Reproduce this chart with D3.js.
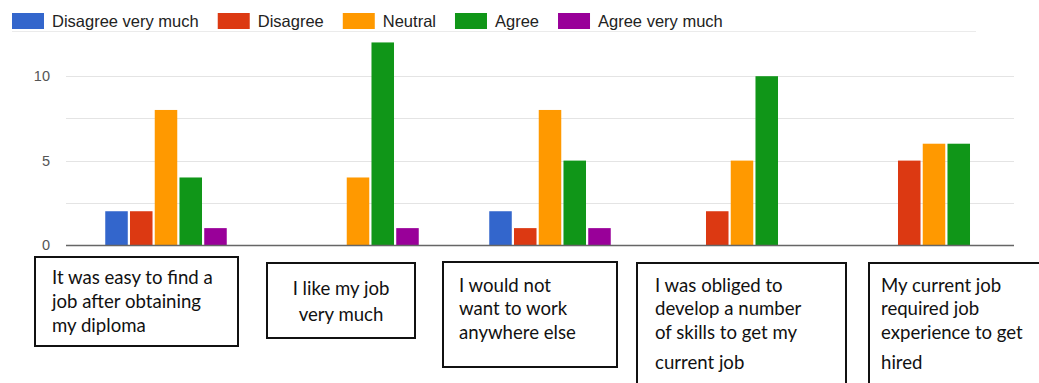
<!DOCTYPE html>
<html>
<head>
<meta charset="utf-8">
<script src="https://cdn.jsdelivr.net/npm/d3@7"></script>
<style>
  body { margin: 0; background: #fff; }
  svg { display: block; }
</style>
</head>
<body>
<div id="chart"></div>
<script>
// Dimensions
const width = 1039;
const height = 383;
const plot = { left: 66, right: 1014, top: 34, bottom: 245 };

// Data
const questions = ['Q1', 'Q2', 'Q3', 'Q4', 'Q5'];
const answers = ['Disagree very much', 'Disagree', 'Neutral', 'Agree', 'Agree very much'];
const colors = ['#3366cc', '#dc3912', '#ff9900', '#109618', '#990099'];
const disagreeVeryMuch = [2, 0, 2, 0, 0];
const disagree = [2, 0, 1, 2, 5];
const neutral = [8, 4, 8, 5, 6];
const agree = [4, 12, 5, 10, 6];
const agreeVeryMuch = [1, 1, 1, 0, 0];
const yTicks = [0, 5, 10];
const gridTicks = [2.5, 5, 7.5, 10];
const questionLines = [
    ['It was easy to find a', 'job after obtaining', 'my diploma'],
    ['I like my job', 'very much'],
    ['I would not', 'want to work', 'anywhere else'],
    ['I was obliged to', 'develop a number', 'of skills to get my', 'current job'],
    ['My current job', 'required job', 'experience to get', 'hired']
];

const series = [disagreeVeryMuch, disagree, neutral, agree, agreeVeryMuch];

const svg = d3.select("#chart")
    .append("svg")
    .attr("width", width)
    .attr("height", height);

// Scales
const x0 = d3.scaleBand()
    .domain(questions)
    .range([70, 1030]);

const x1 = d3.scaleBand()
    .domain(answers)
    .range([0, 121.5])
    .paddingInner(0.09);

const y = d3.scaleLinear()
    .domain([0, 12.5])
    .range([plot.bottom, plot.top]);

const color = d3.scaleOrdinal().domain(answers).range(colors);

// Legend separator
svg.append("line")
    .attr("x1", 12).attr("x2", 976)
    .attr("y1", 31.5).attr("y2", 31.5)
    .attr("stroke", "#ebebeb")
    .attr("stroke-width", 1);

// Gridlines
svg.append("g")
    .selectAll("line")
    .data(gridTicks)
    .join("line")
    .attr("x1", plot.left).attr("x2", plot.right)
    .attr("y1", d => Math.round(y(d)) + 0.5)
    .attr("y2", d => Math.round(y(d)) + 0.5)
    .attr("stroke", "#e4e4e4")
    .attr("stroke-width", 1.2);

// Y labels
svg.append("g")
    .selectAll("text")
    .data(yTicks)
    .join("text")
    .attr("x", 50)
    .attr("y", d => y(d) + 5)
    .attr("text-anchor", "end")
    .attr("font-family", "Liberation Sans, Arial, sans-serif")
    .attr("font-size", "14.5px")
    .attr("fill", "#555")
    .text(d => d);

// Bars
const rows = questions.map((q, i) => ({
    q: q,
    values: answers.map((a, j) => ({ key: a, value: series[j][i] }))
}));

svg.append("g")
    .selectAll("g")
    .data(rows)
    .join("g")
    .attr("transform", d => `translate(${x0(d.q) + (x0.bandwidth() - 121.5) / 2},0)`)
    .selectAll("rect")
    .data(d => d.values.filter(v => v.value > 0))
    .join("rect")
    .attr("x", d => x1(d.key))
    .attr("y", d => y(d.value))
    .attr("width", x1.bandwidth())
    .attr("height", d => y(0) - y(d.value))
    .attr("fill", d => color(d.key));

// Baseline
svg.append("line")
    .attr("x1", plot.left).attr("x2", plot.right)
    .attr("y1", y(0) + 0.5).attr("y2", y(0) + 0.5)
    .attr("stroke", "#666")
    .attr("stroke-width", 1.6);

// Legend
const legend = svg.append("g").attr("transform", "translate(12,13)");
let lx = 0;
answers.forEach(a => {
    const g = legend.append("g").attr("transform", `translate(${lx},0)`);
    g.append("rect")
        .attr("width", 32).attr("height", 16)
        .attr("fill", color(a));
    const t = g.append("text")
        .attr("x", 40).attr("y", 14)
        .attr("font-family", "Liberation Sans, Arial, sans-serif")
        .attr("font-size", "16.5px")
        .attr("fill", "#222")
        .text(a);
    lx += 40 + t.node().getComputedTextLength() + 19;
});

// Question boxes
const boxes = [
    { x: 35, y: 257, w: 203, h: 89, tx: 52, ty: 283.5, anchor: 'start', gap: 24 },
    { x: 267, y: 263, w: 148, h: 75, tx: 341, ty: 295, anchor: 'middle', gap: 25.5 },
    { x: 443, y: 262, w: 174, h: 105, tx: 459, ty: 292, anchor: 'start', gap: 23.3 },
    { x: 637, y: 263, w: 209, h: 130, tx: 655, ty: 292, anchor: 'start', gap: 23.3, last: 30 },
    { x: 869, y: 263, w: 190, h: 130, tx: 881, ty: 292, anchor: 'start', gap: 23.3, last: 30 }
];

boxes.forEach((b, i) => {
    svg.append("rect")
        .attr("x", b.x).attr("y", b.y)
        .attr("width", b.w).attr("height", b.h)
        .attr("fill", "#fff")
        .attr("stroke", "#111")
        .attr("stroke-width", 2);
    const lines = questionLines[i];
    const t = svg.append("text")
        .attr("font-family", "Lato, 'Open Sans', sans-serif")
        .attr("font-size", "18.6px")
        .attr("fill", "#111")
        .attr("text-anchor", b.anchor);
    lines.forEach((line, k) => {
        let yy = b.ty + k * b.gap;
        if (b.last && k === 3) yy = b.ty + 2 * b.gap + b.last;
        t.append("tspan")
            .attr("x", b.tx)
            .attr("y", yy)
            .text(line);
    });
});
</script>
</body>
</html>
